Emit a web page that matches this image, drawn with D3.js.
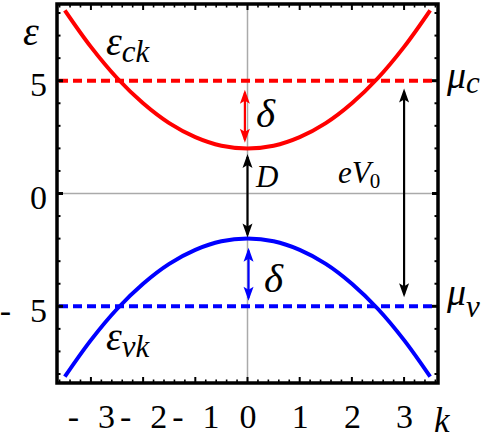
<!DOCTYPE html>
<html><head><meta charset="utf-8">
<script src="https://cdn.jsdelivr.net/npm/d3@7"></script>
</head>
<body style="margin:0;padding:0;background:#fff">
<svg id="chart" width="499" height="439" style="display:block"></svg>
<script>
// ---- data ----
const kValues   = [-3.5,-3,-2.5,-2,-1.5,-1,-0.5,0,0.5,1,1.5,2,2.5,3,3.5];
const epsC      = [8.12,6.5,5.12,4.0,3.12,2.5,2.12,2.0,2.12,2.5,3.12,4.0,5.12,6.5,8.12];
const epsV      = [-8.12,-6.5,-5.12,-4.0,-3.12,-2.5,-2.12,-2.0,-2.12,-2.5,-3.12,-4.0,-5.12,-6.5,-8.12];
const muC = 5, muV = -5;
const xTicks = [-3,-2,-1,0,1,2,3];
const yTicks = [-5,0,5];
// arrows: k position, eps start, eps end, colour
const arrowK     = [-0.05, 0, 0.02, 3.0];
const arrowFrom  = [4.6, 1.75, -2.4, 4.65];
const arrowTo    = [2.25, -1.95, -4.75, -4.6];
const arrowColor = ["red","black","blue","black"];

const FONT = "Liberation Serif";
const svg = d3.select("#chart");
const L = 57, R = 438, T = 4, B = 383;
const x = d3.scaleLinear().domain([-3.65,3.65]).range([L,R]);
const y = d3.scaleLinear().domain([-8.4,8.4]).range([B,T]);

// gray zero lines
svg.append("line").attr("x1",L).attr("x2",R).attr("y1",y(0)).attr("y2",y(0))
  .attr("stroke","#aaa").attr("stroke-width",1.5);
svg.append("line").attr("x1",x(0)).attr("x2",x(0)).attr("y1",T).attr("y2",B)
  .attr("stroke","#aaa").attr("stroke-width",1.5);

// dashed chemical potentials
[[muC,"red"],[muV,"blue"]].forEach(([v,c])=>{
  svg.append("line").attr("x1",L+2).attr("x2",R-2).attr("y1",y(v)).attr("y2",y(v))
    .attr("stroke",c).attr("stroke-width",4).attr("stroke-dasharray","9,5");
});

// bands
const line = d3.line().x((d,i)=>x(kValues[i])).y(d=>y(d)).curve(d3.curveCatmullRom);
svg.append("path").attr("d",line(epsC)).attr("fill","none").attr("stroke","red").attr("stroke-width",4);
svg.append("path").attr("d",line(epsV)).attr("fill","none").attr("stroke","blue").attr("stroke-width",4);

// arrow markers
const defs = svg.append("defs");
["red","black","blue"].forEach(c=>{
  defs.append("marker").attr("id","ah-"+c)
    .attr("viewBox","-14 -7 18 14").attr("markerWidth",18).attr("markerHeight",14)
    .attr("refX",0).attr("refY",0).attr("orient","auto-start-reverse")
    .attr("markerUnits","userSpaceOnUse")
    .append("path").attr("d","M3,0 L-11,-5 L-8,0 L-11,5 Z").attr("fill",c);
});
arrowK.forEach((k,i)=>{
  const y1 = y(arrowFrom[i]), y2 = y(arrowTo[i]);
  const s = Math.sign(y2-y1);
  svg.append("line").attr("x1",x(k)).attr("x2",x(k))
    .attr("y1",y1+3*s).attr("y2",y2-3*s)
    .attr("stroke",arrowColor[i]).attr("stroke-width",2.2)
    .attr("marker-start","url(#ah-"+arrowColor[i]+")")
    .attr("marker-end","url(#ah-"+arrowColor[i]+")");
});

// frame ticks (inside, mirrored)
const fr = svg.append("g");
function tk(x1,y1,x2,y2,w){fr.append("line").attr("x1",x1).attr("y1",y1).attr("x2",x2).attr("y2",y2).attr("stroke","#000").attr("stroke-width",w);}
d3.range(-3.6,3.61,0.2).forEach(v=>{
  const vv = Math.round(v*10)/10;
  const major = Math.abs(vv-Math.round(vv))<1e-6;
  const len = major?6:3.5;
  tk(x(vv),B,x(vv),B-len,major?2:1.6);
  tk(x(vv),T,x(vv),T+len,major?2:1.6);
});
d3.range(-8,9,1).forEach(v=>{
  const major = v%5===0;
  const len = major?6:3.5;
  tk(L,y(v),L+len,y(v),major?3:2);
  tk(R,y(v),R-len,y(v),major?3:2);
});
svg.append("rect").attr("x",L).attr("y",T).attr("width",R-L).attr("height",B-T)
  .attr("fill","none").attr("stroke","#000").attr("stroke-width",3.5);

// tick labels via axes
function fixNeg(sel){
  sel.each(function(d){
    const t = d3.select(this);
    if(d<0){
      t.text("");
      t.append("tspan").text("-");
      t.append("tspan").attr("dx",19).text(String(Math.abs(d)));
    }
  });
}
const gx = svg.append("g").attr("transform",`translate(0,${B})`)
  .call(d3.axisBottom(x).tickValues(xTicks).tickSize(0).tickFormat(d=>String(d)));
gx.attr("font-family",FONT).attr("font-size",34);
gx.select(".domain").remove();
gx.selectAll("text").attr("y",45).attr("dy",0).call(fixNeg);

const gy = svg.append("g").attr("transform",`translate(47,0)`)
  .call(d3.axisLeft(y).tickValues(yTicks).tickSize(0).tickFormat(d=>String(d)));
gy.attr("font-family",FONT).attr("font-size",34);
gy.select(".domain").remove();
gy.selectAll("text").attr("x",0).attr("dy",15).call(fixNeg);

// math labels (serif italic)
function lab(px,py,main,sub,size,subSize,subDy){
  const t = svg.append("text").attr("x",px).attr("y",py)
    .attr("font-size",size).attr("font-family",FONT).attr("font-style","italic");
  t.append("tspan").text(main);
  if(sub){ t.append("tspan").attr("dy",subDy).attr("font-size",subSize).text(sub); }
  return t;
}
lab(23,45,"ε",null,40);
lab(106,55,"ε","ck",40,31,7);
lab(106,350,"ε","vk",40,31,7);
lab(447,88,"μ","c",38,31,5);
lab(447,305,"μ","v",38,31,12);
lab(256,127,"δ",null,41);
lab(264,292,"δ",null,41);
lab(256,187,"D",null,31);
const ev = lab(338,183,"eV",null,31);
const evw = ev.node().getComputedTextLength();
svg.append("text").attr("x",338+evw-1).attr("y",188).attr("font-size",21)
  .attr("font-family",FONT).text("0");
lab(434,432,"k",null,35);
svg.selectAll("text").attr("fill","#000");
</script>
</body></html>
